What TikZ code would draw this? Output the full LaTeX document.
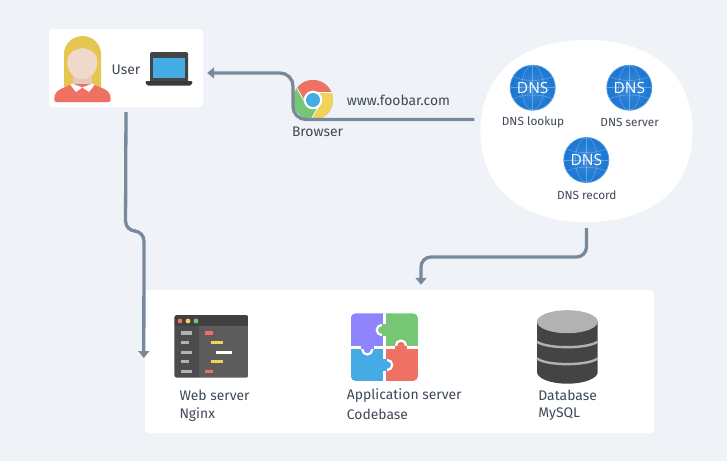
\documentclass[tikz,border=0pt]{standalone}
\usepackage{fontspec}
\setmainfont{Fira Sans}
\newfontfamily\globefont{Open Sans}
\usetikzlibrary{arrows.meta,shapes.geometric,calc}
\definecolor{bgc}{HTML}{EFF3F7}
\definecolor{linec}{HTML}{78899B}
\definecolor{txtc}{HTML}{3E4957}
\definecolor{redc}{HTML}{EE7164}
\definecolor{yelc}{HTML}{F1D35A}
\definecolor{grnc}{HTML}{76C676}
\definecolor{bluc}{HTML}{45ABE5}
\definecolor{purc}{HTML}{8F84FB}
\definecolor{hairc}{HTML}{E5C650}
\definecolor{skinc}{HTML}{F0D8CB}
\definecolor{neckc}{HTML}{E6C9B9}
\definecolor{darkc}{HTML}{444444}
\definecolor{globec}{HTML}{1976D2}
\tikzset{
  panel/.style={fill=white,draw=none,inner sep=0pt},
  conn/.style={draw=linec,line width=3.3pt,rounded corners=10pt,-{Triangle[length=7pt,width=11pt]}},
  lbl/.style={text=txtc,font=\fontsize{13.9}{15}\selectfont,inner sep=0pt},
  dnslbl/.style={text=txtc,font=\fontsize{11.8}{13}\selectfont,inner sep=0pt},
  leftlbl/.style={lbl,anchor=west},
  globe/.style={circle,minimum size=45pt,inner sep=0pt,inner color=globec!85!white,outer color=globec,draw=globec!75!white,line width=.8pt,text=white},
  globeline/.style={draw=white,opacity=.3,line width=.5pt},
}
\newcommand{\dnsglobe}[3]{%
  \node[globe] (#3) at (#1,#2) {};
  \begin{scope}[shift={(#1,#2)}]
    \draw[globeline] (0,0) ellipse [x radius=11,y radius=22];
    \draw[globeline] (0,-22) -- (0,22);
    \draw[globeline] (-19.5,-11) .. controls (-8,-6) and (8,-6) .. (19.5,-11);
    \draw[globeline] (-19.5,11) .. controls (-8,6) and (8,6) .. (19.5,11);
    \draw[globeline] (-22,0) -- (22,0);
  \end{scope}
  \node[text=white,font=\globefont\fontsize{15.5}{17}\selectfont,inner sep=0pt] at (#3) {DNS};
}
\begin{document}
\begin{tikzpicture}[x=1pt,y=-1pt]
\useasboundingbox (0,0) rectangle (727,461);
\fill[bgc] (0,0) rectangle (727,461);

% panels
\node[panel,rounded corners=3pt,minimum width=154pt,minimum height=78pt] (user) at (126,68) {};
\node[panel,ellipse,minimum width=212pt,minimum height=182pt] (dns) at (586.5,131) {};
\fill[white] (480.5,131) .. controls (480.5,73) and (522,40) .. (586.5,40) .. controls (651,40) and (692.5,73) .. (692.5,131) .. controls (692.5,189) and (651,222) .. (586.5,222) .. controls (522,222) and (480.5,189) .. (480.5,131) -- cycle;
\node[panel,rounded corners=3pt,minimum width=509pt,minimum height=143pt] (backend) at (399.5,361.5) {};

% woman
\fill[hairc] (64,87) -- (64,54) arc[start angle=180,end angle=360,x radius=18.5,y radius=18] -- (101,87) -- cycle;
\fill[neckc] (73,70) rectangle (92,88);
\fill[skinc] (67.3,62) .. controls (67.3,52) and (74,50) .. (82.3,48) .. controls (91,50) and (97.3,52) .. (97.3,62) .. controls (97.3,73) and (90,79) .. (82.3,79) .. controls (75,79) and (67.3,73) .. (67.3,62) -- cycle;
\fill[redc,rounded corners=2pt] (54.3,102) -- (54.3,97) .. controls (56,90) and (65,87) .. (73,84) -- (92,84) .. controls (100,87) and (109,90) .. (110.7,97) -- (110.7,102) -- cycle;
\fill[white] (72,83.5) -- (82.3,87.5) -- (76,92) -- (70.5,85) -- cycle;
\fill[white] (92.6,83.5) -- (82.3,87.5) -- (89,92) -- (94.5,85) -- cycle;
\node[lbl] (userlabel) at (126,69.3) {User};

% laptop
\fill[darkc,rounded corners=1.5pt] (150,84) -- (150,52) -- (188,52) -- (188,84) -- cycle;
\fill[bluc] (153,57.7) rectangle (185,78.3);
\fill[black!70] (169,54.7) circle[radius=1];
\fill[darkc!85!black,rounded corners=1.5pt] (145,81) -- (193,81) -- (191,85.7) -- (147,85.7) -- cycle;

% chrome
\node[circle,minimum size=40pt,inner sep=0pt,fill=grnc] (chrome) at (313,100) {};
\begin{scope}[shift={(313,100)},y=1pt]
  \clip (0,0) circle[radius=20];
  \foreach \r/\c in {0/redc,-120/yelc,120/grnc}{
    \fill[\c,rotate=\r] (0,8) -- (40,8) -- (60:70) -- ($(210:8)+(120:40)$) -- (210:8) -- cycle;
  }
  \foreach \r in {0,-120,120}{
    \draw[white,line width=.8pt,rotate=\r] (0,8) -- (40,8);
  }
  \fill[white] (0,0) circle[radius=9.3];
  \fill[bluc] (0,0) circle[radius=7];
\end{scope}
\node[lbl] (browser) at (317.5,131.5) {Browser};
\node[lbl] (url) at (398.5,100.5) {www.foobar.com};

% DNS
\dnsglobe{532.7}{87.7}{g1}
\dnsglobe{629.3}{87.7}{g2}
\dnsglobe{586.3}{160}{g3}
\node[dnslbl] (dl) at (533,122.7) {DNS lookup};
\node[dnslbl] (ds) at (629.7,122.7) {DNS server};
\node[dnslbl] (dr) at (586.7,194.7) {DNS record};

% web server window
\begin{scope}
  \clip[rounded corners=2.5pt] (174.3,315) rectangle (248.3,377.7);
  \fill[black!70] (174.3,326) rectangle (199,377.7);
  \fill[black!64] (199,326) rectangle (248.3,377.7);
  \fill[black!75] (174.3,315) rectangle (248.3,326);
\end{scope}
\fill[redc] (180,321) circle[radius=2.4];
\fill[yelc] (188,321) circle[radius=2.4];
\fill[grnc] (196,321) circle[radius=2.4];
\foreach \a/\b/\y in {181/192.3/333,181/189/342.7,181/192.3/352.3,181/189/361.7,181/192.3/371.3}
  \fill[black!30] (\a,\y-1.7) rectangle (\b,\y+1.7);
\foreach \a/\b/\y/\c in {205/213/333/redc,211.3/222.7/342.7/yelc,216.3/232.3/352.3/white,211.3/222.7/361.7/yelc,205/213/371.3/redc}
  \fill[\c] (\a,\y-1.7) rectangle (\b,\y+1.7);
\node[leftlbl] (webl1) at (179.3,395.7) {Web server};
\node[leftlbl] (webl2) at (179.3,414.3) {Nginx};

% puzzle
\begin{scope}
  \clip[rounded corners=5pt] (350.7,313.3) rectangle (418,381);
  \fill[purc] (350.7,313.3) rectangle (384.3,347.3);
  \fill[grnc] (384.3,313.3) rectangle (418,347.3);
  \fill[bluc] (350.7,347.3) rectangle (384.3,381);
  \fill[redc] (384.3,347.3) rectangle (418,381);
  \draw[white,line width=2.6pt] (384.3,313.3) -- (384.3,381) (350.7,347.3) -- (418,347.3);
\end{scope}
\draw[white,line width=2.2pt,fill=grnc] (381.7,330) circle[radius=5];
\fill[grnc] (382.3,323.8) rectangle (390,336.2);
\draw[white,line width=2.2pt,fill=redc] (401,345.5) circle[radius=5];
\fill[redc] (394.8,346) rectangle (407.2,353);
\draw[white,line width=2.2pt,fill=purc] (367.3,349.5) circle[radius=5];
\fill[purc] (361.1,342) rectangle (373.5,349);
\draw[white,line width=2.2pt,fill=bluc] (387.3,365) circle[radius=5];
\fill[bluc] (379,358.8) rectangle (386.8,371.2);
\node[leftlbl] (appl1) at (346.7,395.7) {Application server};
\node[leftlbl] (appl2) at (346.7,414.3) {Codebase};

% database
\fill[darkc] (537,321.7) -- (537,372) arc[start angle=180,end angle=0,x radius=30.35,y radius=11.7] -- (597.7,321.7) -- cycle;
\fill[black!30] (567.35,321.7) ellipse[x radius=30.35,y radius=11.5];
\draw[black!30,line width=2.4pt] (537,341.7) .. controls (547,349) and (587,349) .. (597.7,341.7);
\draw[black!30,line width=2.4pt] (537,358.5) .. controls (547,366) and (587,366) .. (597.7,358.5);
\node[leftlbl] (dbl1) at (538.2,395.7) {Database};
\node[leftlbl] (dbl2) at (538.2,414.3) {MySQL};

% connectors
\draw[conn,rounded corners=13pt,shorten <=6pt,shorten >=4pt] ([yshift=11.5pt]dns.west) -- (293,119.5) -- (293,73) -- ([yshift=-5pt]user.east);
\draw[conn,shorten <=5pt] (user.south) -- (125.5,231) -- (144,231) -- ([xshift=-1pt,yshift=3.5pt]backend.west);
\draw[conn,shorten <=6pt,shorten >=5pt] (dns.south) -- (586.5,257) -- (421,257) -- ([xshift=21.5pt]backend.north);
\end{tikzpicture}
\end{document}
